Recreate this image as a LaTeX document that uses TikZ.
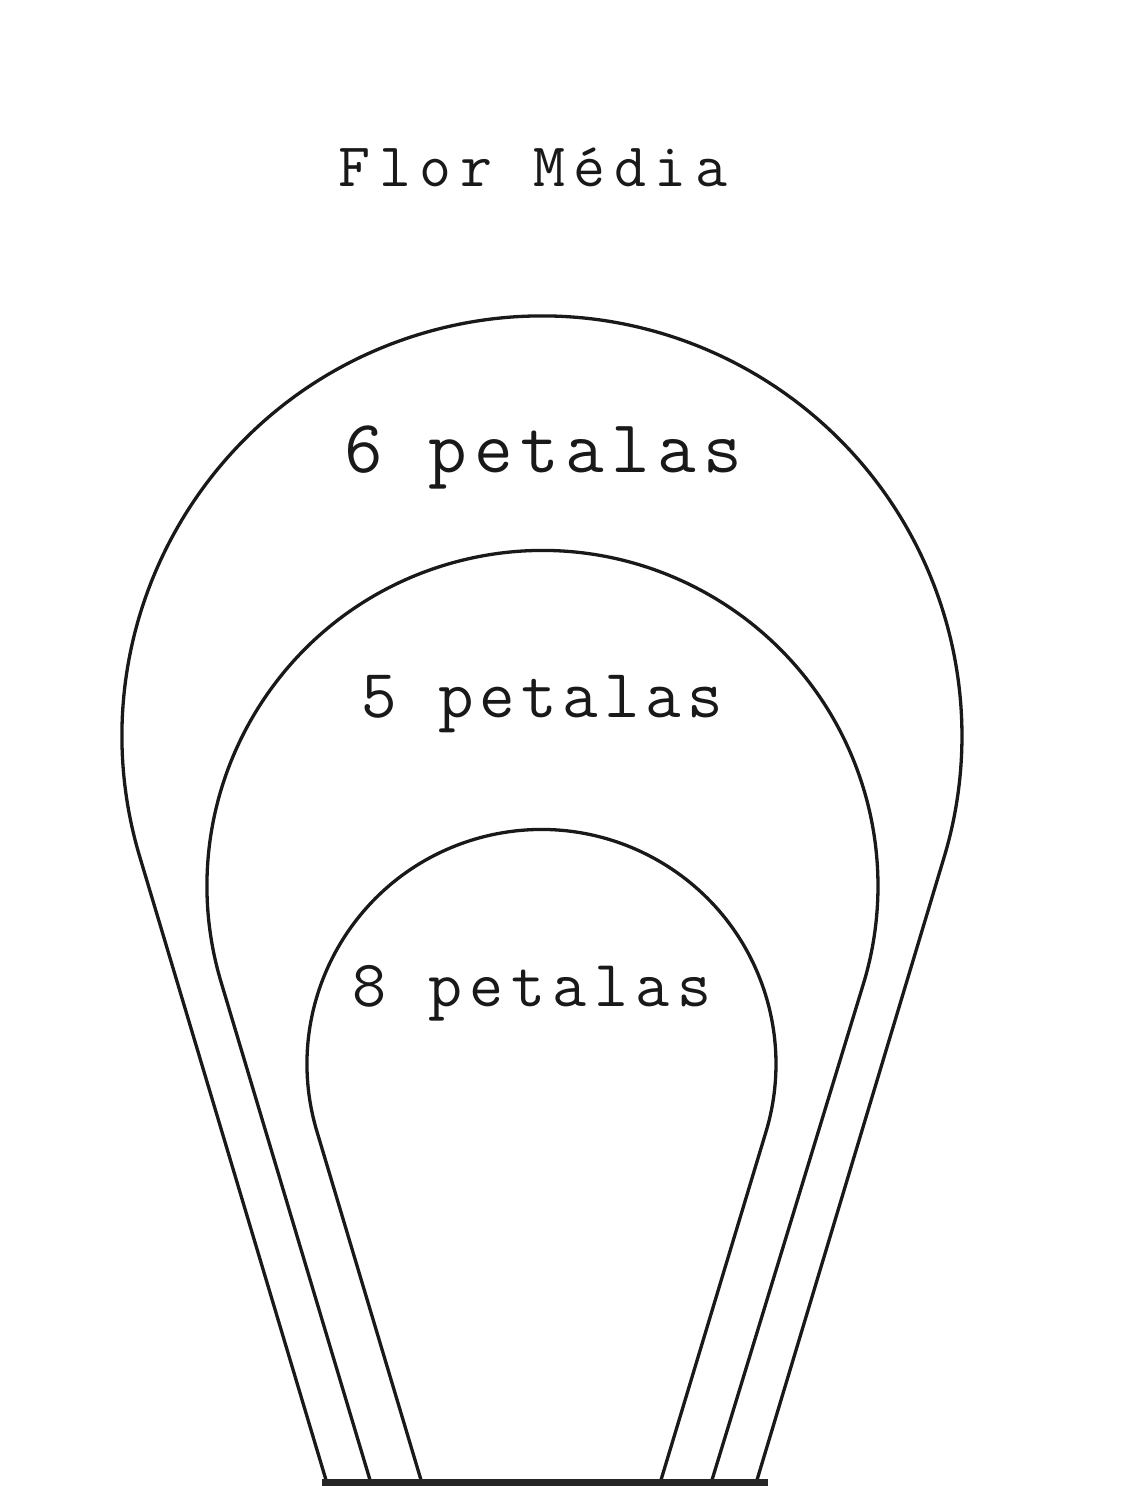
\documentclass[tikz,border=0pt]{standalone}
\usepackage{fontspec}
\usetikzlibrary{calc}
\newfontfamily\monof{Latin Modern Mono}
\begin{document}
\begin{tikzpicture}[x=1pt,y=1pt,
  petal/.style={draw=black!90, line width=3.3pt, line join=round},
  lbl/.style={anchor=base, inner sep=0pt, text=black!90},
  bar/.style={fill=black!85, draw=none}]
\useasboundingbox (0,0) rectangle (1125,1486);
% bottoms of the petal lines
\coordinate (b6l) at (326,6);  \coordinate (b6r) at (757,6);
\coordinate (b5l) at (370,6);  \coordinate (b5r) at (712,6);
\coordinate (b8l) at (421,6);  \coordinate (b8r) at (661,6);
% circle centres
\coordinate (c6) at (542,750);
\coordinate (c5) at (542.5,600);
\coordinate (c8) at (541.5,422);
% outer petal (6 petalas)
\draw[petal] (b6l) -- ($(c6)+(196.64:420)$) arc[start angle=196.64, end angle=-16.72, radius=420] -- (b6r);
% middle petal (5 petalas)
\draw[petal] (b5l) -- ($(c5)+(196.65:335.5)$) arc[start angle=196.65, end angle=-16.97, radius=335.5] -- (b5r);
% inner petal (8 petalas)
\draw[petal] (b8l) -- ($(c8)+(196.62:234.5)$) arc[start angle=196.62, end angle=-16.78, radius=234.5] -- (b8r);
% bottom bar
\fill[bar] (322,0) rectangle (768,7);
% labels
\node[lbl] (title) at (533,1299) {\monof\fontsize{62}{70}\selectfont\addfontfeature{LetterSpace=14}Flor Média};
\node[lbl] (l6) at (543,1013) {\monof\fontsize{75}{80}\selectfont\addfontfeature{LetterSpace=9.5}6 petalas};
\node[lbl] (l5) at (542,768) {\monof\fontsize{69}{74}\selectfont\addfontfeature{LetterSpace=8.6}5 petalas};
\node[lbl] (l8) at (532,479) {\monof\fontsize{66}{73}\selectfont\addfontfeature{LetterSpace=11.5}8 petalas};
\end{tikzpicture}
\end{document}
